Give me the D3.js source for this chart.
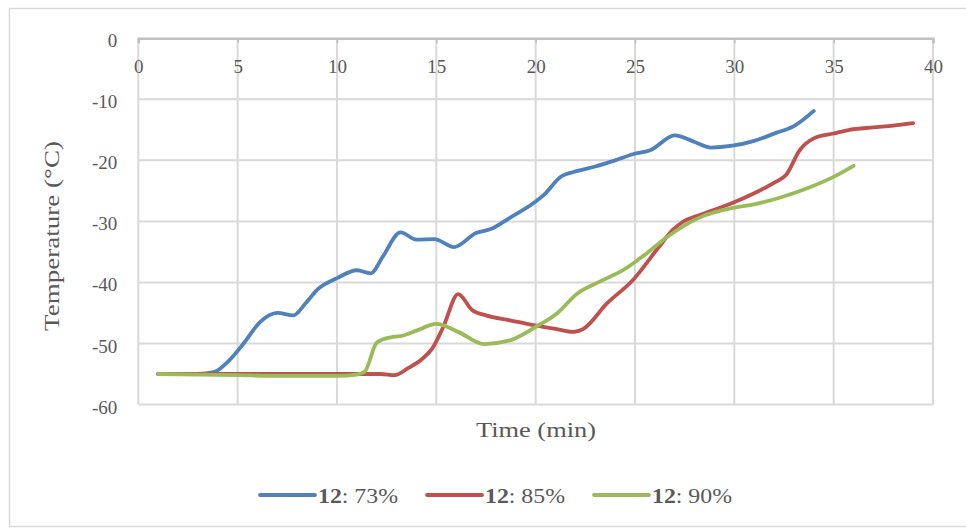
<!DOCTYPE html>
<html>
<head>
<meta charset="utf-8">
<script src="https://cdn.jsdelivr.net/npm/d3@7"></script>
<style>
  html, body { margin: 0; padding: 0; background: #fff; }
  svg { display: block; }
  text { font-family: "Liberation Serif", Tinos, "Times New Roman", Times, serif; fill: #595959; }
</style>
</head>
<body>
<svg id="chart" width="966" height="529"></svg>
<script>
// ---- data ----
const xTicks = [0, 5, 10, 15, 20, 25, 30, 35, 40];
const yTicks = [0, -10, -20, -30, -40, -50, -60];

const seriesNames = ["12", "12", "12"];
const seriesSuffix = [": 73%", ": 85%", ": 90%"];
const seriesColors = ["#4F81BD", "#C0504D", "#9BBB59"];

const time73 = [1, 2, 3, 3.8, 4.6, 5.3, 6.1, 7, 7.8, 8.4, 9, 10, 11, 11.7, 12.3, 13.2, 14, 14.9, 15.9, 17, 17.7, 18.8, 19.9, 20.4, 21.3, 21.9, 23, 24, 24.9, 25.8, 27, 28, 28.8, 29.9, 31, 32.1, 33, 34];
const temp73 = [-55, -55, -55, -54.7, -52.7, -50, -46.6, -45, -45.4, -43.5, -41.2, -39.3, -38, -38.5, -35.8, -31.8, -33, -32.9, -34.2, -31.9, -31.3, -29.2, -27, -25.7, -22.6, -21.9, -21, -20, -19, -18.3, -15.9, -17, -17.9, -17.6, -16.8, -15.5, -14.4, -11.9];

const time85 = [1, 3, 5, 7, 9, 11, 12.2, 12.9, 13.6, 14.3, 14.8, 15.35, 16.1, 16.8, 17.5, 18.7, 19.9, 21, 21.9, 22.4, 23.6, 24.9, 26.2, 26.9, 27.4, 28.3, 29.9, 31, 32.1, 32.6, 33.3, 34, 35, 35.8, 37, 38, 39];
const temp85 = [-55, -55, -55, -55, -55, -55, -55, -55.2, -54, -52.5, -50.8, -47.3, -41.9, -44.5, -45.4, -46.2, -47, -47.6, -48.1, -47.6, -43.4, -39.6, -34.2, -31.4, -30.1, -28.9, -27, -25.4, -23.5, -22.4, -18.3, -16.4, -15.6, -15, -14.6, -14.3, -13.9];

const time90 = [1, 3, 5, 7, 9, 10, 11, 11.4, 12, 12.7, 13.2, 14, 15, 16.1, 17.4, 18.7, 20, 21.1, 22.1, 23.2, 24.4, 25.6, 26.6, 28.3, 29.9, 31, 32.4, 33.8, 35, 36];
const temp90 = [-55, -55.1, -55.2, -55.3, -55.3, -55.3, -55.1, -54.6, -49.9, -49, -48.8, -47.9, -46.8, -48.1, -50.1, -49.5, -47.3, -45, -41.8, -39.9, -38, -35.2, -32.6, -29.3, -27.8, -27.2, -26, -24.4, -22.7, -20.9];

const allTimes = [time73, time85, time90];
const allTemps = [temp73, temp85, temp90];

// ---- layout ----
const FONT = '"Liberation Serif", Tinos, "Times New Roman", Times, serif';
const svg = d3.select("#chart");
const plot = { left: 138.3, right: 933, top: 38.3, bottom: 404.5 };

const x = d3.scaleLinear().domain([0, 40]).range([plot.left, plot.right]);
const y = d3.scaleLinear().domain([-60, 0]).range([plot.bottom, plot.top]);

// chart frame
svg.append("rect")
  .attr("x", 9.5).attr("y", 8.5).attr("width", 1000).attr("height", 518)
  .attr("fill", "#fff").attr("stroke", "#d9d9d9").attr("stroke-width", 1.5);

// gridlines
const grid = svg.append("g");
grid.selectAll("line.h").data(yTicks.filter(d => d !== 0)).join("line")
  .attr("x1", plot.left).attr("x2", plot.right)
  .attr("y1", d => y(d)).attr("y2", d => y(d))
  .attr("stroke", "#d9d9d9").attr("stroke-width", 2);
grid.selectAll("line.v").data(xTicks).join("line")
  .attr("y1", plot.top).attr("y2", plot.bottom)
  .attr("x1", d => x(d)).attr("x2", d => x(d))
  .attr("stroke", "#d9d9d9").attr("stroke-width", 2);

const fmt = d => String(d);

// x axis at y = 0 (top)
const xAxis = d3.axisBottom(x).tickValues(xTicks).tickFormat(fmt).tickSize(5).tickPadding(16);
const gx = svg.append("g").attr("transform", `translate(0,${y(0)})`).call(xAxis)
  .attr("font-family", FONT);
gx.select(".domain").attr("stroke", "#bfbfbf").attr("stroke-width", 2.5);
gx.selectAll(".tick line").attr("stroke", "#bfbfbf").attr("stroke-width", 1.5);
gx.selectAll(".tick text")
  .style("font-family", FONT)
  .style("font-size", "19px").attr("fill", "#595959")
  .attr("dy", "0.71em");

// y axis labels
const yAxis = d3.axisLeft(y).tickValues(yTicks).tickFormat(fmt).tickSize(0).tickPadding(21);
const gy = svg.append("g").attr("transform", `translate(${plot.left},0)`).call(yAxis)
  .attr("font-family", FONT);
gy.select(".domain").remove();
gy.selectAll(".tick text")
  .style("font-family", FONT)
  .style("font-size", "19px").attr("fill", "#595959")
  .attr("dy", "0.45em");

// series lines
const line = d3.line().x(d => x(d[0])).y(d => y(d[1])).curve(d3.curveMonotoneX);
allTimes.forEach((ts, i) => {
  const pts = ts.map((t, k) => [t, allTemps[i][k]]);
  svg.append("path").datum(pts)
    .attr("d", line)
    .attr("fill", "none")
    .attr("stroke", seriesColors[i])
    .attr("stroke-width", 3.8)
    .attr("stroke-linecap", "round")
    .attr("stroke-linejoin", "round");
});

// axis titles
svg.append("text")
  .attr("x", 536).attr("y", 437)
  .attr("text-anchor", "middle")
  .attr("textLength", 120).attr("lengthAdjust", "spacingAndGlyphs")
  .style("font-size", "22px")
  .text("Time (min)");

svg.append("text")
  .attr("transform", "translate(59,236) rotate(-90)")
  .attr("text-anchor", "middle")
  .attr("textLength", 190).attr("lengthAdjust", "spacingAndGlyphs")
  .style("font-size", "21px")
  .text("Temperature (°C)");

// legend
const legendX = [260, 427, 594];
const legend = svg.append("g");
seriesColors.forEach((c, i) => {
  const lx = legendX[i];
  legend.append("line")
    .attr("x1", lx).attr("x2", lx + 55)
    .attr("y1", 495).attr("y2", 495)
    .attr("stroke", c).attr("stroke-width", 3.8).attr("stroke-linecap", "round");
  const t = legend.append("text")
    .attr("x", lx + 58).attr("y", 503)
    .attr("textLength", 80).attr("lengthAdjust", "spacingAndGlyphs")
    .style("font-size", "20px");
  t.append("tspan").attr("font-weight", "bold").text(seriesNames[i]);
  t.append("tspan").text(seriesSuffix[i]);
});
</script>
</body>
</html>
